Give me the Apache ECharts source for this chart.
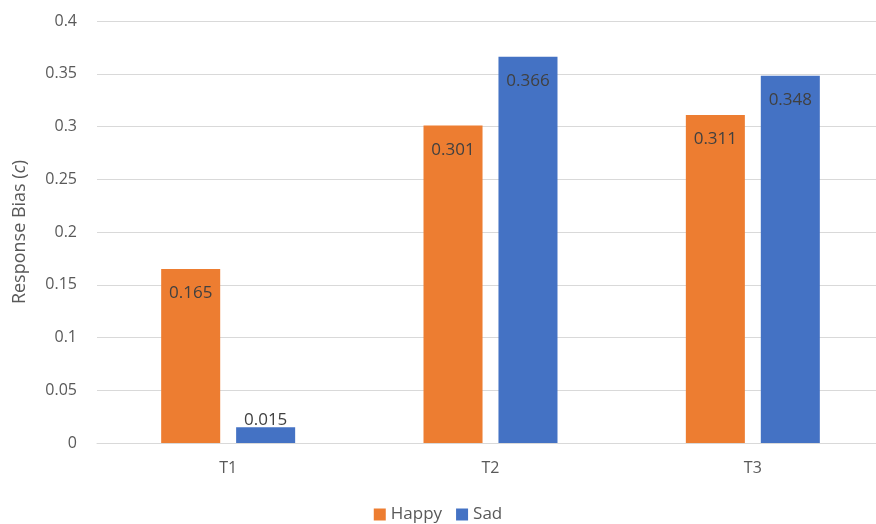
<!DOCTYPE html>
<html>
<head>
<meta charset="utf-8">
<script src="https://cdn.jsdelivr.net/npm/echarts@6/dist/echarts.min.js"></script>
<style>
  html, body { margin: 0; padding: 0; background: #fff; }
  #main { width: 876px; height: 524px; }
</style>
</head>
<body>
<div id="main"></div>
<script>
var categories = ['T1', 'T2', 'T3'];
var happy = [0.165, 0.301, 0.311];
var sad = [0.015, 0.366, 0.348];
var yTicks = [0, 0.05, 0.1, 0.15, 0.2, 0.25, 0.3, 0.35, 0.4];

var myChart = echarts.init(document.getElementById('main'));

// label inside the bar top, but above it when the bar is too short
function labelled(values) {
    return values.map(function (v) {
        if (v < 0.03) {
            return { value: v, label: { position: 'top', distance: -1 } };
        }
        return v;
    });
}

var seriesLabel = {
    show: true,
    position: 'insideTop',
    distance: 16,
    color: '#404040',
    fontSize: 17,
    fontFamily: 'Open Sans'
};

var option = {
    animation: false,
    textStyle: { fontFamily: 'Open Sans' },
    grid: {
        left: 97,
        top: 21,
        width: 787,
        bottom: 81,
        outerBoundsMode: 'none'
    },
    legend: {
        bottom: -4,
        left: 'center',
        itemWidth: 12,
        itemHeight: 12,
        itemGap: 14,
        icon: 'rect',
        textStyle: { color: '#595959', fontSize: 17 },
        data: ['Happy', 'Sad']
    },
    xAxis: {
        type: 'category',
        data: categories,
        axisLine: { lineStyle: { color: '#d9d9d9' } },
        axisTick: { show: false },
        axisLabel: { color: '#595959', fontSize: 16, margin: 17 }
    },
    yAxis: {
        type: 'value',
        min: 0,
        max: 0.4,
        interval: 0.05,
        name: '{n|Response Bias (}{i|c}{n|)}',
        nameLocation: 'middle',
        nameGap: 68,
        nameTextStyle: {
            rich: {
                n: { color: '#595959', fontSize: 18 },
                i: { color: '#595959', fontSize: 18, fontStyle: 'italic' }
            }
        },
        axisLine: { show: false },
        axisTick: { show: false },
        splitLine: { lineStyle: { color: '#d9d9d9' } },
        axisLabel: {
            color: '#595959',
            fontSize: 16,
            margin: 20,
            formatter: function (v) {
                var t = yTicks.find(function (k) { return Math.abs(k - v) < 1e-9; });
                return t === undefined ? '' : String(t);
            }
        }
    },
    series: [
        {
            name: 'Happy',
            type: 'bar',
            data: labelled(happy),
            barWidth: '22.5%',
            barGap: '27%',
            itemStyle: { color: '#ED7D31' },
            label: seriesLabel
        },
        {
            name: 'Sad',
            type: 'bar',
            data: labelled(sad),
            barWidth: '22.5%',
            itemStyle: { color: '#4472C4' },
            label: seriesLabel
        }
    ]
};

myChart.setOption(option);
</script>
</body>
</html>
